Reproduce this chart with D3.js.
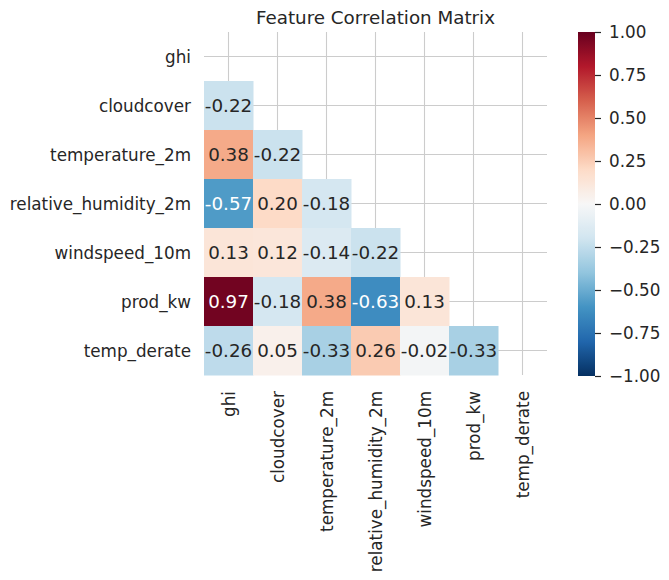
<!DOCTYPE html>
<html>
<head>
<meta charset="utf-8">
<script src="https://cdn.jsdelivr.net/npm/d3@7"></script>
<style>
  body { margin: 0; background: #fff; }
  text { font-family: "DejaVu Sans", sans-serif; fill: #262626; }
</style>
</head>
<body>
<div class="chart"></div>
<script>
var width = 669;
var height = 580;

// features and lower-triangle correlations (row i has i values)
var features = ["ghi", "cloudcover", "temperature_2m", "relative_humidity_2m",
                "windspeed_10m", "prod_kw", "temp_derate"];
var corrRows = [
  [],
  [-0.22],
  [0.38, -0.22],
  [-0.57, 0.20, -0.18],
  [0.13, 0.12, -0.14, -0.22],
  [0.97, -0.18, 0.38, -0.63, 0.13],
  [-0.26, 0.05, -0.33, 0.26, -0.02, -0.33]
];
var colorbarTicks = [1, 0.75, 0.5, 0.25, 0, -0.25, -0.5, -0.75, -1];

// matplotlib RdBu_r (ColorBrewer stops, linear)
var rdbu = ["#67001f","#b2182b","#d6604d","#f4a582","#fddbc7","#f7f7f7",
            "#d1e5f0","#92c5de","#4393c3","#2166ac","#053061"];
var color = d3.scaleLinear()
    .domain(d3.range(11).map(function(i) { return 1 - i * 0.2; }))
    .range(rdbu)
    .interpolate(d3.interpolateRgb)
    .clamp(true);

var svg = d3.select(".chart").append("svg")
    .attr("width", width)
    .attr("height", height);

var plotLeft = 204, plotTop = 32, side = 343;

var x = d3.scaleBand().domain(features).range([plotLeft, plotLeft + side]);
var y = d3.scaleBand().domain(features).range([plotTop, plotTop + side]);

// grid behind the cells, through the cell centers
var grid = svg.append("g").attr("class", "grid");
features.forEach(function(f) {
  var cx = x(f) + x.bandwidth() / 2;
  var cy = y(f) + y.bandwidth() / 2;
  grid.append("line")
      .attr("x1", cx).attr("x2", cx)
      .attr("y1", plotTop).attr("y2", plotTop + side)
      .attr("stroke", "#cccccc").attr("stroke-width", 1.1);
  grid.append("line")
      .attr("x1", plotLeft).attr("x2", plotLeft + side)
      .attr("y1", cy).attr("y2", cy)
      .attr("stroke", "#cccccc").attr("stroke-width", 1.1);
});

var cells = [];
corrRows.forEach(function(row, i) {
  row.forEach(function(v, j) {
    cells.push({ row: features[i], col: features[j], value: v });
  });
});

function lum(c) {
  var rgb = d3.rgb(c);
  var f = function(u) {
    u = u / 255;
    return u <= 0.03928 ? u / 12.92 : Math.pow((u + 0.055) / 1.055, 2.4);
  };
  return 0.2126 * f(rgb.r) + 0.7152 * f(rgb.g) + 0.0722 * f(rgb.b);
}

var cellG = svg.append("g").attr("class", "cells");
cellG.selectAll("rect")
    .data(cells)
    .enter().append("rect")
    .attr("x", function(d) { return x(d.col); })
    .attr("y", function(d) { return y(d.row); })
    .attr("width", x.bandwidth() + 0.5)
    .attr("height", y.bandwidth() + 0.5)
    .attr("fill", function(d) { return color(d.value); });

cellG.selectAll("text")
    .data(cells)
    .enter().append("text")
    .attr("x", function(d) { return x(d.col) + x.bandwidth() / 2; })
    .attr("y", function(d) { return y(d.row) + y.bandwidth() / 2; })
    .attr("text-anchor", "middle")
    .attr("dominant-baseline", "central")
    .style("font-size", "18.3px")
    .style("fill", function(d) { return lum(color(d.value)) > 0.408 ? "#262626" : "#ffffff"; })
    .text(function(d) { return d.value.toFixed(2); });

// axis labels
svg.append("g")
  .selectAll("text")
  .data(features)
  .enter().append("text")
    .attr("x", 191)
    .attr("y", function(d) { return y(d) + y.bandwidth() / 2; })
    .attr("text-anchor", "end")
    .attr("dominant-baseline", "central")
    .style("font-size", "16.8px")
    .text(function(d) { return d; });

svg.append("g")
  .selectAll("text")
  .data(features)
  .enter().append("text")
    .attr("transform", function(d) {
      return "translate(" + (x(d) + x.bandwidth() / 2) + "," + 391 + ") rotate(-90)";
    })
    .attr("text-anchor", "end")
    .attr("dominant-baseline", "central")
    .style("font-size", "16.8px")
    .text(function(d) { return d; });

// title
svg.append("text")
    .attr("x", plotLeft + side / 2)
    .attr("y", 24)
    .attr("text-anchor", "middle")
    .style("font-size", "18.3px")
    .text("Feature Correlation Matrix");

// colorbar
var cbX = 578, cbW = 17, cbTop = 32, cbBottom = 376;
var cbScale = d3.scaleLinear().domain([1, -1]).range([cbTop, cbBottom]);

var grad = svg.append("defs").append("linearGradient")
    .attr("id", "cbgrad")
    .attr("x1", 0).attr("y1", 0).attr("x2", 0).attr("y2", 1);
d3.range(0, 101).forEach(function(i) {
  grad.append("stop")
      .attr("offset", i + "%")
      .attr("stop-color", color(1 - i / 50));
});
svg.append("rect")
    .attr("x", cbX).attr("y", cbTop)
    .attr("width", cbW).attr("height", cbBottom - cbTop)
    .attr("fill", "url(#cbgrad)");

var cbAxis = d3.axisRight(cbScale)
    .tickValues(colorbarTicks)
    .tickSize(6)
    .tickPadding(8)
    .tickFormat(function(d) { return d3.format(".2f")(d).replace("-", "\u2212"); });

var cbG = svg.append("g")
    .attr("transform", "translate(" + (cbX + cbW) + ",0)")
    .call(cbAxis);
cbG.select(".domain").remove();
cbG.selectAll("line").attr("stroke", "#262626").attr("stroke-width", 1.2);
cbG.selectAll("text")
    .style("font-size", "16.8px")
    .style("font-family", "DejaVu Sans, sans-serif")
    .attr("fill", "#262626");
</script>
</body>
</html>
